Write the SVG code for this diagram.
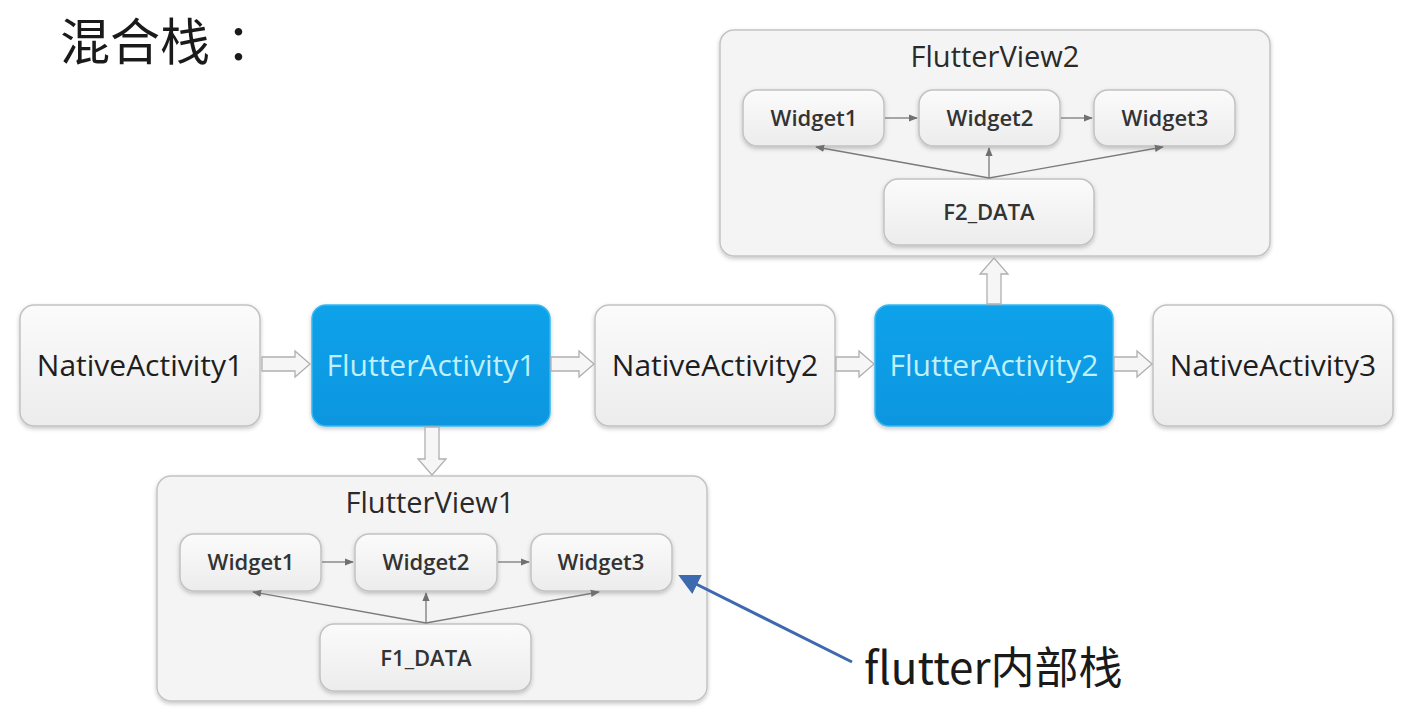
<svg xmlns="http://www.w3.org/2000/svg" width="1415" height="721" viewBox="0 0 1415 721">
<defs>
  <linearGradient id="gBox" x1="0" y1="0" x2="0" y2="1">
    <stop offset="0" stop-color="#fbfbfb"/>
    <stop offset="1" stop-color="#ececec"/>
  </linearGradient>
  <linearGradient id="gBlue" x1="0" y1="0" x2="0" y2="1">
    <stop offset="0" stop-color="#0ea2ea"/>
    <stop offset="1" stop-color="#0a96e0"/>
  </linearGradient>
  <filter id="sh" x="-10%" y="-10%" width="120%" height="130%">
    <feDropShadow dx="0" dy="2" stdDeviation="2" flood-color="#000" flood-opacity="0.22"/>
  </filter>
  <marker id="mSmall" viewBox="0 0 10 10" refX="9" refY="5" markerWidth="7" markerHeight="7" orient="auto">
    <path d="M0,1 L10,5 L0,9 z" fill="#707070"/>
  </marker>
  <marker id="mBlue" viewBox="0 0 10 10" refX="8" refY="5" markerWidth="7" markerHeight="7" orient="auto">
    <path d="M0,0 L10,5 L0,10 z" fill="#3d6aae"/>
  </marker>
</defs>
<style>
  .box { fill: url(#gBox); stroke: #c2c2c2; stroke-width: 1.5; filter: url(#sh); }
  .blue { fill: url(#gBlue); stroke: #35b8f0; stroke-width: 1.5; filter: url(#sh); }
  .cont { fill: #f4f4f4; stroke: #c4c4c4; stroke-width: 1.5; filter: url(#sh); }
  .act { font-family: "Open Sans", "DejaVu Sans", sans-serif; font-size: 30px; fill: #1e1e1e; text-anchor: middle; }
  .actb { font-family: "Open Sans", "DejaVu Sans", sans-serif; font-size: 30px; fill: #bff0fb; text-anchor: middle; }
  .vt { font-family: "Open Sans", "DejaVu Sans", sans-serif; font-size: 29px; fill: #2a2a2a; text-anchor: middle; }
  .wt { font-family: "Open Sans", "DejaVu Sans", sans-serif; font-size: 22px; font-weight: 600; fill: #333; text-anchor: middle; }
  .hollow { fill: #f6f6f6; stroke: #b0b0b0; stroke-width: 1.3; }
  .thin { stroke: #7a7a7a; stroke-width: 1.3; fill: none; marker-end: url(#mSmall); }
  .cjk { font-family: "Noto Sans CJK SC", "Noto Sans", sans-serif; fill: #1a1a1a; }
</style>

<rect width="1415" height="721" fill="#ffffff"/>

<text id="title" class="cjk" x="60" y="60" font-size="50">混合栈<tspan dx="16">：</tspan></text>

<!-- Containers -->
<g id="flutterview2">
  <rect class="cont" x="720" y="30" width="550" height="226" rx="14"/>
  <text class="vt" x="995" y="67">FlutterView2</text>
</g>
<g id="fv2-widget1">
  <rect class="box" x="743" y="90" width="141" height="56" rx="14"/>
  <text class="wt" x="814" y="126">Widget1</text>
</g>
<g id="fv2-widget2">
  <rect class="box" x="919" y="90" width="141" height="56" rx="14"/>
  <text class="wt" x="990" y="126">Widget2</text>
</g>
<g id="fv2-widget3">
  <rect class="box" x="1094" y="90" width="141" height="56" rx="14"/>
  <text class="wt" x="1165" y="126">Widget3</text>
</g>
<g id="f2-data">
  <rect class="box" x="884" y="179" width="210" height="66" rx="14"/>
  <text class="wt" x="989" y="220">F2_DATA</text>
</g>

<g id="flutterview1">
  <rect class="cont" x="157" y="476" width="550" height="225" rx="14"/>
  <text class="vt" x="430" y="513">FlutterView1</text>
</g>
<g id="fv1-widget1">
  <rect class="box" x="180" y="534" width="141" height="57" rx="14"/>
  <text class="wt" x="251" y="570">Widget1</text>
</g>
<g id="fv1-widget2">
  <rect class="box" x="355" y="534" width="142" height="57" rx="14"/>
  <text class="wt" x="426" y="570">Widget2</text>
</g>
<g id="fv1-widget3">
  <rect class="box" x="531" y="534" width="141" height="57" rx="14"/>
  <text class="wt" x="601" y="570">Widget3</text>
</g>
<g id="f1-data">
  <rect class="box" x="320" y="624" width="211" height="67" rx="14"/>
  <text class="wt" x="426" y="666">F1_DATA</text>
</g>

<!-- Activities -->
<g id="nativeactivity1">
  <rect class="box" x="20" y="305" width="240" height="121" rx="14"/>
  <text class="act" x="140" y="376">NativeActivity1</text>
</g>
<g id="flutteractivity1">
  <rect class="blue" x="312" y="305" width="238" height="121" rx="14"/>
  <text class="actb" x="431" y="376">FlutterActivity1</text>
</g>
<g id="nativeactivity2">
  <rect class="box" x="595" y="305" width="240" height="121" rx="14"/>
  <text class="act" x="715" y="376">NativeActivity2</text>
</g>
<g id="flutteractivity2">
  <rect class="blue" x="875" y="305" width="238" height="121" rx="14"/>
  <text class="actb" x="994" y="376">FlutterActivity2</text>
</g>
<g id="nativeactivity3">
  <rect class="box" x="1153" y="305" width="240" height="121" rx="14"/>
  <text class="act" x="1273" y="376">NativeActivity3</text>
</g>

<g id="label-flutter-stack">
  <text class="cjk" x="864" y="684" font-size="44">flutter内部栈</text>
</g>

<!-- Connectors -->
<g id="connectors">
  <!-- hollow horizontal arrows -->
  <polygon class="hollow" points="262,357 295,357 295,351 310,364 295,377 295,371 262,371"/>
  <polygon class="hollow" points="551,357 579,357 579,351 594,364 579,377 579,371 551,371"/>
  <polygon class="hollow" points="836,357 859,357 859,351 874,364 859,377 859,371 836,371"/>
  <polygon class="hollow" points="1114,357 1137,357 1137,351 1152,364 1137,377 1137,371 1114,371"/>
  <!-- hollow vertical arrows -->
  <polygon class="hollow" points="425,427 439,427 439,459 446,459 432,475 418,459 425,459"/>
  <polygon class="hollow" points="987,304 1001,304 1001,274 1008,274 994,258 980,274 987,274"/>
  <!-- FlutterView2 internal -->
  <line class="thin" x1="885" y1="118" x2="917" y2="118"/>
  <line class="thin" x1="1061" y1="118" x2="1092" y2="118"/>
  <line class="thin" x1="989" y1="178" x2="816" y2="147"/>
  <line class="thin" x1="989" y1="178" x2="989" y2="148"/>
  <line class="thin" x1="989" y1="178" x2="1163" y2="147"/>
  <!-- FlutterView1 internal -->
  <line class="thin" x1="322" y1="562" x2="353" y2="562"/>
  <line class="thin" x1="498" y1="562" x2="529" y2="562"/>
  <line class="thin" x1="426" y1="623" x2="253" y2="592"/>
  <line class="thin" x1="426" y1="623" x2="426" y2="593"/>
  <line class="thin" x1="426" y1="623" x2="599" y2="592"/>
  <!-- blue pointer -->
  <line x1="852" y1="662" x2="682" y2="577" stroke="#3d6aae" stroke-width="3" marker-end="url(#mBlue)"/>
</g>
</svg>
